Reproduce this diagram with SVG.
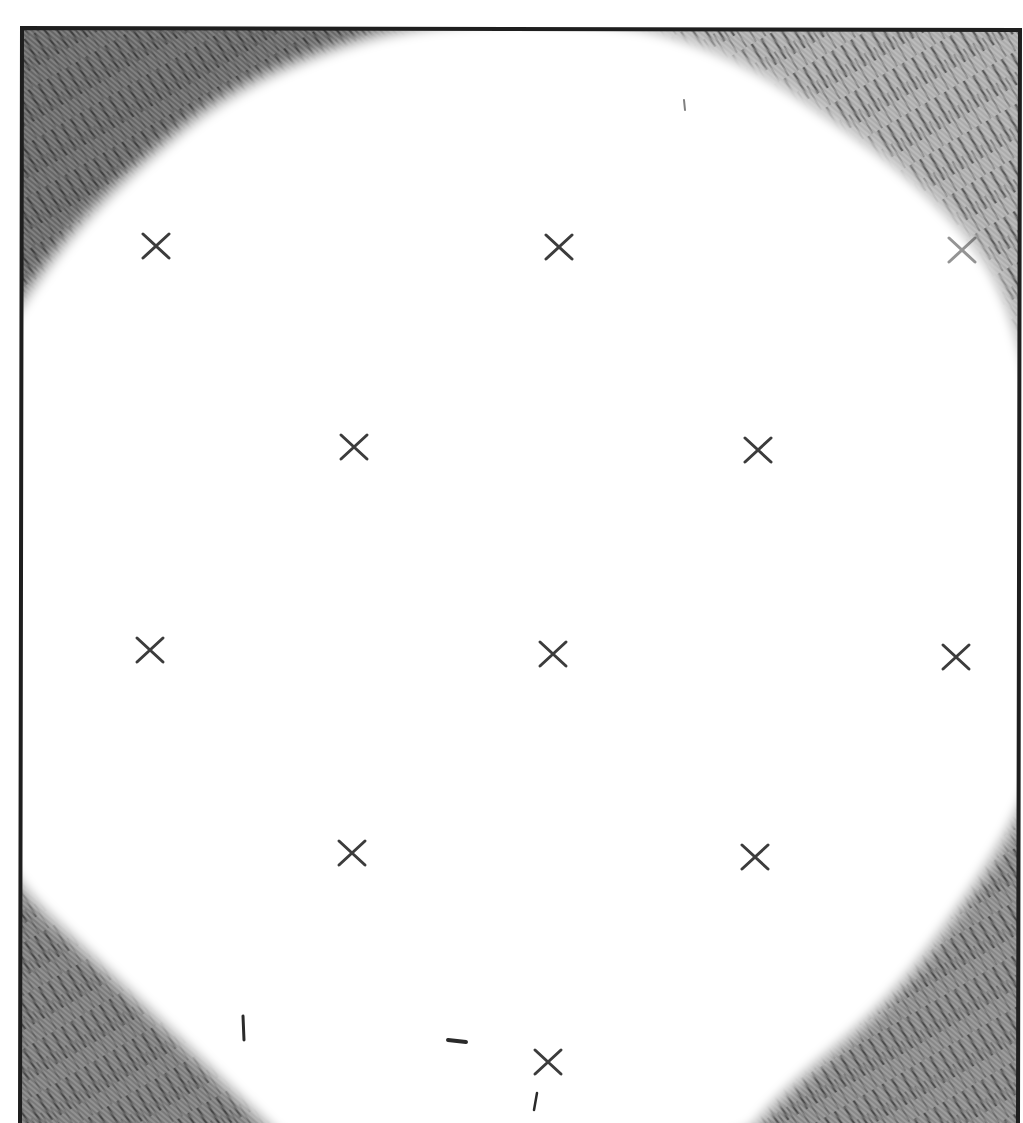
<svg xmlns="http://www.w3.org/2000/svg" width="1023" height="1123" viewBox="0 0 1023 1123">
<defs>
<style>
.frame{fill:none;stroke:#1e1e1e;stroke-width:4;stroke-linejoin:miter}
.x{fill:none;stroke:#3c3c3c;stroke-width:3;stroke-linecap:round}
.mark{fill:none;stroke:#2a2a2a;stroke-linecap:round}
</style>
<pattern id="hatchA" patternUnits="userSpaceOnUse" width="11" height="46" patternTransform="rotate(-30)">
<line x1="2" y1="0" x2="2" y2="30" stroke="#222" stroke-width="2.6" stroke-opacity="0.6"/>
<line x1="7" y1="18" x2="7" y2="46" stroke="#333" stroke-width="1.6" stroke-opacity="0.45"/>
</pattern>
<pattern id="hatchB" patternUnits="userSpaceOnUse" width="4" height="4" patternTransform="rotate(40)">
<line x1="0" y1="1" x2="4" y2="1" stroke="#ffffff" stroke-width="1" stroke-opacity="0.35"/>
</pattern>
<filter id="soft" x="-10%" y="-10%" width="120%" height="120%">
<feGaussianBlur stdDeviation="6"/>
</filter>
<filter id="soft2" x="-10%" y="-10%" width="120%" height="120%">
<feGaussianBlur stdDeviation="4"/>
</filter>
<clipPath id="frameClip">
<path d="M22,28 L1020,30 L1018,1123 L20,1123 Z"/>
</clipPath>
<path id="hole" d="M395,41 Q440,32 490,29 Q540,26 590,29 Q640,32 690,49.5 Q740,67 790,100 Q840,133 873,158 Q906,183 939.5,216.5 Q973,250 989.5,283.5 Q1006,317 1018,368.5 Q1030,420 1032.5,510 Q1035,600 1032.5,680 Q1030,760 1018,791.5 Q1006,823 973,873 Q940,923 906.5,964.5 Q873,1006 823,1048 Q773,1090 751.5,1117 Q730,1145 515,1145 Q300,1145 281,1126 Q262,1108 238.5,1085 Q215,1062 182.5,1031 Q150,1000 115,967 Q80,934 55,910 Q30,886 20,868 Q10,850 7.5,725 Q5,600 7.5,470 Q10,340 21.5,320 Q33,300 58,266.5 Q83,233 116.5,200 Q150,167 191.5,133.5 Q233,100 291.5,75 Q350,50 395,41 Z"/>
<g id="xm"><path class="x" d="M-13,-12 L13,12 M13,-12 L-13,12"/></g>
</defs>
<rect width="1023" height="1123" fill="#ffffff"/>
<g id="corners" clip-path="url(#frameClip)">
<rect x="0" y="0" width="1023" height="1123" fill="#888"/>
<path d="M0,0 L520,0 L0,560 Z" fill="#000" fill-opacity="0.25"/>
<path d="M560,0 L1023,0 L1023,560 Z" fill="#fff" fill-opacity="0.3"/>
<path d="M0,700 L0,1123 L400,1123 Z" fill="#000" fill-opacity="0.1"/>
<rect x="0" y="0" width="1023" height="1123" fill="url(#hatchA)"/>
<rect x="0" y="0" width="1023" height="1123" fill="url(#hatchB)"/>
<use href="#hole" fill="#d4d4d4" stroke="#d4d4d4" stroke-width="26" stroke-linejoin="round" filter="url(#soft)"/>
<use href="#hole" fill="#ffffff" stroke="#ffffff" stroke-width="6" stroke-linejoin="round" filter="url(#soft2)"/>
</g>
<g id="frame"><path class="frame" d="M20,1123 L22,28 L1020,30 L1018,1123"/></g>
<g id="marks">
<use href="#xm" x="156" y="246"/>
<use href="#xm" x="559" y="247"/>
<use href="#xm" x="962" y="250" opacity="0.55"/>
<use href="#xm" x="354" y="447"/>
<use href="#xm" x="758" y="450"/>
<use href="#xm" x="150" y="650"/>
<use href="#xm" x="553" y="654"/>
<use href="#xm" x="956" y="657"/>
<use href="#xm" x="352" y="853"/>
<use href="#xm" x="755" y="857"/>
<use href="#xm" x="548" y="1062"/>
</g>
<g id="specks">
<path class="mark" stroke-width="3" d="M243,1016 L244,1040"/>
<path class="mark" stroke-width="4" d="M448,1040 L466,1042"/>
<path class="mark" stroke-width="2.5" d="M537,1093 L534,1110"/>
<path class="mark" stroke-width="2" stroke-opacity="0.6" d="M684,100 L685,110"/>
</g>
</svg>
